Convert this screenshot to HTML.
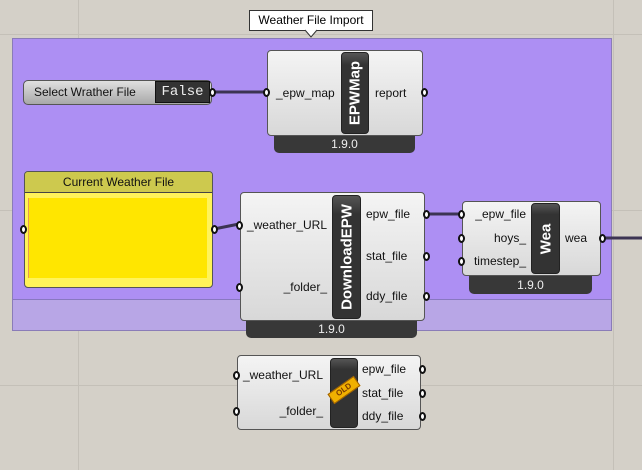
<!DOCTYPE html>
<html><head><meta charset="utf-8"><style>
body{margin:0;width:642px;height:470px;overflow:hidden;background:#d4d0c8;font-family:"Liberation Sans",sans-serif;position:relative}
.a{position:absolute;box-sizing:border-box}
.gl{position:absolute;background:#c4c0b8}
.comp{position:absolute;box-sizing:border-box;background:linear-gradient(#f4f4f4,#d8d8d8);border:1px solid #555;border-radius:4px}
.bar{position:absolute;box-sizing:border-box;background:linear-gradient(#555,#333 15%,#333);border:1px solid #222;border-radius:4px}
.vt{position:absolute;left:50%;top:50%;transform:translate(-50%,-50%) rotate(-90deg);color:#fff;font-weight:bold;font-size:15px;white-space:nowrap}
.foot{position:absolute;background:#383838;color:#eee;font-size:12px;text-align:center;border-radius:0 0 5px 5px}
.t{position:absolute;font-size:12px;color:#111;white-space:nowrap}
.r{text-align:right}
.p{position:absolute;width:7px;height:9px;background:#fff;border:2px solid #111;border-radius:50%;box-sizing:border-box}
</style></head><body>
<div class="gl" style="left:78px;top:0;width:1px;height:470px"></div>
<div class="gl" style="left:0;top:34px;width:642px;height:1px"></div>
<div class="gl" style="left:0;top:210px;width:642px;height:1px"></div>
<div class="gl" style="left:0;top:385px;width:642px;height:1px"></div>
<div class="gl" style="left:613px;top:0;width:1px;height:470px"></div>
<div class="a" style="left:12px;top:38px;width:600px;height:293px;background:#b8a6e6;border:1px solid #8a7cb8"></div>
<div class="a" style="left:12px;top:38px;width:600px;height:262px;background:#ad8ff3;border:1px solid #8a7cb8;border-bottom:1px solid #8878c0"></div>
<div class="a" style="left:249px;top:10px;width:124px;height:21px;background:#fff;border:1px solid #333;font-size:12px;text-align:center;line-height:19px">Weather File Import</div>
<svg class="a" style="left:0;top:0" width="642" height="470">
<path d="M305 30 L311 37 L317 30" fill="#fff" stroke="#333"/>
<g stroke="#3c3453" stroke-width="3" fill="none">
<line x1="212" y1="92" x2="264" y2="92"/>
<line x1="214" y1="229" x2="239" y2="224"/>
<line x1="426" y1="214" x2="461" y2="214"/>
<line x1="602" y1="238" x2="642" y2="238"/>
</g></svg>
<div class="a" style="left:23px;top:80px;width:189px;height:25px;background:linear-gradient(#e0e0e0,#a8a8a8);border:1px solid #555;border-radius:5px"></div>
<div class="t" style="left:34px;top:85px">Select Wrather File</div>
<div class="a" style="left:155px;top:81px;width:55px;height:22px;background:#333;border:1px solid #111;color:#eee;font-family:'Liberation Mono',monospace;font-size:14px;text-align:center;line-height:20px">False</div>
<div class="p" style="left:209px;top:88px"></div>
<div class="foot" style="left:274px;top:133px;width:141px;height:20px;line-height:22px">1.9.0</div>
<div class="comp" style="left:267px;top:50px;width:156px;height:86px"></div>
<div class="bar" style="left:341px;top:52px;width:28px;height:82px"><div class="vt">EPWMap</div></div>
<div class="t" style="left:276px;top:86px">_epw_map</div>
<div class="t" style="left:375px;top:86px">report</div>
<div class="p" style="left:263px;top:88px"></div>
<div class="p" style="left:421px;top:88px"></div>
<div class="a" style="left:24px;top:171px;width:189px;height:117px;background:#fff35a;border:1px solid #555;border-radius:4px"></div>
<div class="a" style="left:25px;top:172px;width:187px;height:21px;background:#cdc94e;border-bottom:1px solid #444;border-radius:3px 3px 0 0;font-size:12px;text-align:center;line-height:20px;color:#111">Current Weather File</div>
<div class="a" style="left:28px;top:198px;width:179px;height:80px;background:#ffe600;border-left:1px solid #e89a50"></div>
<div class="p" style="left:20px;top:225px"></div>
<div class="p" style="left:211px;top:225px"></div>
<div class="foot" style="left:246px;top:318px;width:171px;height:20px;line-height:22px">1.9.0</div>
<div class="comp" style="left:240px;top:192px;width:185px;height:129px"></div>
<div class="bar" style="left:332px;top:195px;width:29px;height:124px"><div class="vt">DownloadEPW</div></div>
<div class="t r" style="left:228px;width:99px;top:218px">_weather_URL</div>
<div class="t r" style="left:228px;width:99px;top:280px">_folder_</div>
<div class="t" style="left:366px;top:207px">epw_file</div>
<div class="t" style="left:366px;top:249px">stat_file</div>
<div class="t" style="left:366px;top:289px">ddy_file</div>
<div class="p" style="left:236px;top:221px"></div>
<div class="p" style="left:236px;top:283px"></div>
<div class="p" style="left:423px;top:210px"></div>
<div class="p" style="left:423px;top:252px"></div>
<div class="p" style="left:423px;top:292px"></div>
<div class="foot" style="left:469px;top:274px;width:123px;height:20px;line-height:22px">1.9.0</div>
<div class="comp" style="left:462px;top:201px;width:139px;height:75px"></div>
<div class="bar" style="left:531px;top:203px;width:29px;height:71px"><div class="vt">Wea</div></div>
<div class="t r" style="left:446px;width:80px;top:207px">_epw_file</div>
<div class="t r" style="left:446px;width:80px;top:231px">hoys_</div>
<div class="t r" style="left:446px;width:80px;top:254px">timestep_</div>
<div class="t" style="left:565px;top:231px">wea</div>
<div class="p" style="left:458px;top:210px"></div>
<div class="p" style="left:458px;top:234px"></div>
<div class="p" style="left:458px;top:257px"></div>
<div class="p" style="left:599px;top:234px"></div>
<div class="comp" style="left:237px;top:355px;width:184px;height:75px"></div>
<div class="bar" style="left:330px;top:358px;width:28px;height:70px"></div>
<div class="a" style="left:328px;top:384px;width:32px;height:12px;background:#f0b000;border:1px solid #a06000;transform:rotate(-35deg);font-size:8px;font-weight:bold;color:#7a3a00;text-align:center;line-height:10px">OLD</div>
<div class="t r" style="left:224px;width:99px;top:368px">_weather_URL</div>
<div class="t r" style="left:224px;width:99px;top:404px">_folder_</div>
<div class="t" style="left:362px;top:362px">epw_file</div>
<div class="t" style="left:362px;top:386px">stat_file</div>
<div class="t" style="left:362px;top:409px">ddy_file</div>
<div class="p" style="left:233px;top:371px"></div>
<div class="p" style="left:233px;top:407px"></div>
<div class="p" style="left:419px;top:365px"></div>
<div class="p" style="left:419px;top:389px"></div>
<div class="p" style="left:419px;top:412px"></div>
</body></html>
